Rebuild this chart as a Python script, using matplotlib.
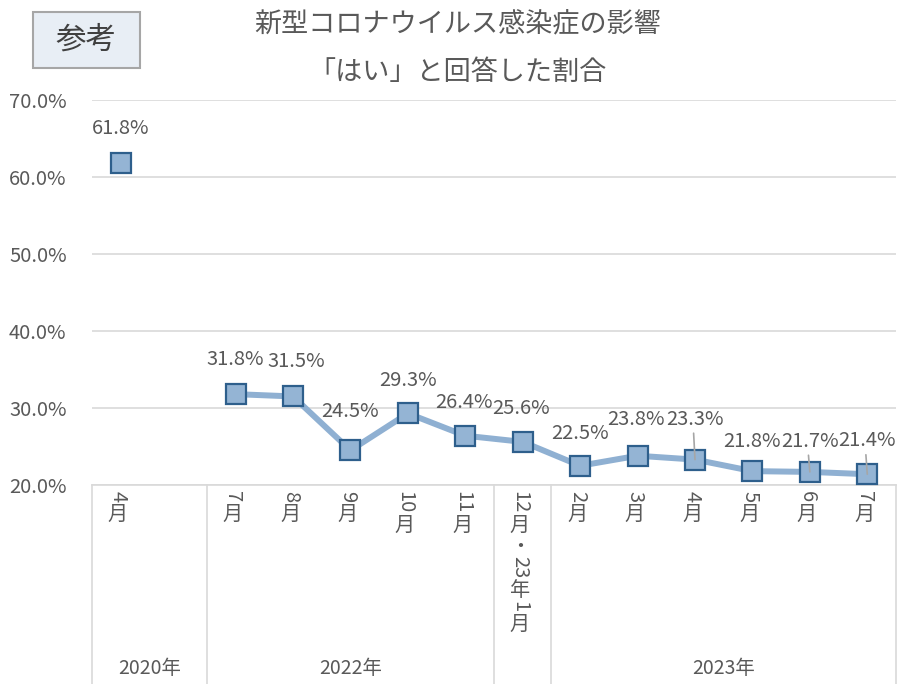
import matplotlib
matplotlib.use("Agg")
import matplotlib.pyplot as plt
import numpy as np
from matplotlib.patches import Rectangle
from matplotlib.lines import Line2D
import matplotlib.transforms as mtransforms

plt.rcParams['font.family'] = ['Noto Sans CJK JP', 'DejaVu Sans']

# ---- data ----
month_labels = ["4月", "", "7月", "8月", "9月", "10月", "11月", "12月・23年1月",
                "2月", "3月", "4月", "5月", "6月", "7月"]
values = [61.8, np.nan, 31.8, 31.5, 24.5, 29.3, 26.4, 25.6,
          22.5, 23.8, 23.3, 21.8, 21.7, 21.4]
year_groups = ["2020年", "2022年", "", "2023年"]
group_spans = [(0, 1), (2, 6), (7, 7), (8, 13)]
title_lines = ["新型コロナウイルス感染症の影響", "「はい」と回答した割合"]
yticks = [20, 30, 40, 50, 60, 70]
# label offsets in points (dx, dy) and whether a leader line is drawn
label_offsets = [(0, 25), None, (0, 25), (2, 25), (0, 28), (0, 24), (-1, 24), (-1, 24),
                 (0, 23), (-1, 26), (0, 29), (0, 21), (0, 22), (0, 24)]
leaders = [False, False, False, False, False, False, False, False,
           False, False, True, False, True, True]

TXT = "#595959"
GRID = "#d9d9d9"
LINE_C = "#8fb0d2"
FACE_C = "#94b4d4"
EDGE_C = "#2e5f8c"

fig = plt.figure(figsize=(9.04, 6.84), dpi=100)
ax = fig.add_axes([92/904, (684-485)/684, 804/904, 385/684])

x = np.arange(len(values))
ax.plot(x, values, color=LINE_C, lw=4.3, solid_capstyle='round', zorder=3)
ax.plot(x, values, ls='none', marker='s', ms=14.5, mfc=FACE_C, mec=EDGE_C, mew=1.6, zorder=4)

for i, v in enumerate(values):
    if np.isnan(v):
        continue
    dx, dy = label_offsets[i]
    ax.annotate(f"{v:.1f}%", (i, v), xytext=(dx, dy), textcoords='offset points',
                ha='center', va='center', fontsize=14.5, color=TXT, zorder=5)
    if leaders[i]:
        ax.annotate("", (i, v), xytext=(-1, dy - 10), textcoords='offset points',
                    arrowprops=dict(arrowstyle='-', color='#a6a6a6', lw=1.2,
                                    shrinkA=0, shrinkB=0), zorder=5)

ax.set_xlim(-0.5, len(values) - 0.5)
ax.set_ylim(20, 70)
ax.set_yticks(yticks)
ax.set_yticklabels([f"{t:.1f}%" for t in yticks], fontsize=14.5, color=TXT)
ax.tick_params(axis='x', length=0, labelbottom=False)
ax.yaxis.grid(True, color=GRID, lw=1.2)
ax.set_axisbelow(True)
for s in ['top', 'right', 'left']:
    ax.spines[s].set_visible(False)
ax.spines['bottom'].set_color(GRID)
ax.spines['bottom'].set_linewidth(1.2)
for lab in ax.get_yticklabels():
    lab.set_horizontalalignment('left')
ax.tick_params(axis='y', length=0, pad=(92 - 9) * 0.72)

# ---- multi-level category axis ----
trans = mtransforms.blended_transform_factory(ax.transData, ax.transAxes)
bottom_ax = -199/385
bounds = [-0.5] + [e + 0.5 for (_, e) in group_spans]
for b in bounds:
    ax.add_line(Line2D([b, b], [0, bottom_ax], transform=trans, color=GRID, lw=1.2, clip_on=False))

fs_m = 14.5
def vertical_label(xc, text):
    runs = []
    for ch in text:
        if ch.isdigit():
            if runs and runs[-1][0] == 'd':
                runs[-1][1] += ch
            else:
                runs.append(['d', ch])
        else:
            runs.append(['c', ch])
    cursor = -4.5
    for kind, s in runs:
        if kind == 'd':
            ax.annotate(s, (xc, 0), xycoords=trans, xytext=(0, cursor), textcoords='offset points',
                        rotation=-90, ha='center', va='top', fontsize=fs_m, color=TXT,
                        annotation_clip=False)
            cursor -= len(s) * fs_m * 0.56 + 1
        else:
            ax.annotate(s, (xc, 0), xycoords=trans, xytext=(0, cursor), textcoords='offset points',
                        ha='center', va='top', fontsize=fs_m, color=TXT, annotation_clip=False)
            cursor -= fs_m * 1.02

for i, lab in enumerate(month_labels):
    if lab:
        vertical_label(i - 0.05, lab)

for name, (s, e) in zip(year_groups, group_spans):
    if name:
        ax.text((s + e) / 2, bottom_ax + 15/385, name, transform=trans, ha='center', va='center',
                fontsize=14, color=TXT)

# ---- titles ----
fig.text(458/904, 1 - 25/684, title_lines[0], ha='center', va='center', fontsize=19.5, color=TXT)
fig.text(458/904, 1 - 72/684, title_lines[1], ha='center', va='center', fontsize=19.5, color=TXT)

# ---- 参考 box ----
fig.patches.append(Rectangle((33/904, 1 - 68/684), 107/904, 56/684, transform=fig.transFigure,
                             facecolor="#e8eef5", edgecolor="#a6a6a6", lw=1.5))
fig.text(86/904, 1 - 40/684, "参考", ha='center', va='center', fontsize=22, color="#404040")

fig.savefig("out.png", dpi=100)
